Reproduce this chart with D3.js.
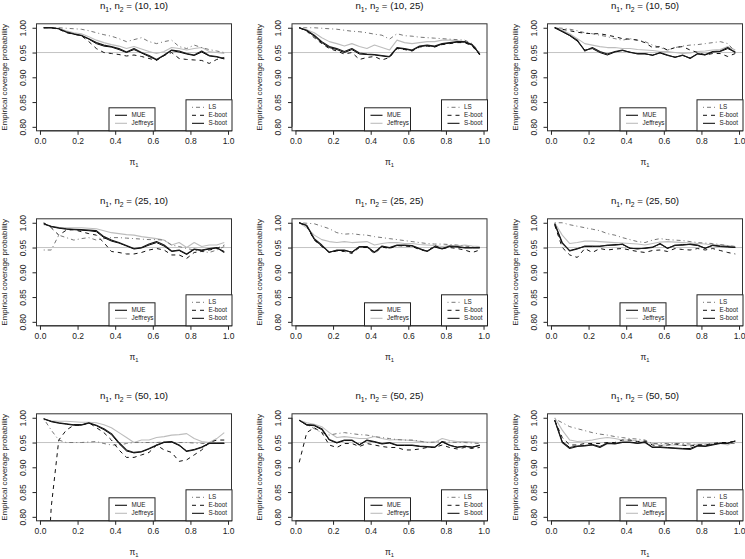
<!DOCTYPE html>
<html><head><meta charset="utf-8">
<script src="https://cdn.jsdelivr.net/npm/d3@7"></script>
<style>body{margin:0;background:#fff}svg{display:block}</style>
</head><body>
<svg id="c" width="745" height="559"></svg>
<script>
const PI1 = [0.02,0.06,0.10,0.14,0.18,0.22,0.26,0.30,0.34,0.38,0.42,0.46,0.50,0.54,0.58,0.62,0.66,0.70,0.74,0.78,0.82,0.86,0.90,0.94,0.98];
const X_TICKS = [0.0,0.2,0.4,0.6,0.8,1.0];
const Y_TICKS = [0.80,0.85,0.90,0.95,1.00];
const SIZES = [[10,10],[10,25],[10,50],[25,10],[25,25],[25,50],[50,10],[50,25],[50,50]];
const SERIES = ["Jeffreys","LS","E-boot","S-boot","MUE"];

// (10,10)
const MUE_10_10 = [1.000,1.000,0.998,0.992,0.988,0.985,0.978,0.970,0.965,0.962,0.958,0.951,0.958,0.950,0.944,0.936,0.945,0.955,0.953,0.948,0.945,0.953,0.944,0.942,0.938];
const SBOOT_10_10 = [1.000,1.000,0.998,0.991,0.987,0.984,0.977,0.968,0.963,0.961,0.956,0.950,0.956,0.949,0.942,0.935,0.944,0.954,0.951,0.947,0.944,0.951,0.943,0.941,0.937];
const JEF_10_10 = [1.000,1.000,0.999,0.994,0.990,0.988,0.982,0.975,0.970,0.966,0.963,0.958,0.962,0.957,0.952,0.948,0.952,0.960,0.958,0.955,0.958,0.960,0.952,0.950,0.948];
const LS_10_10 = [1.000,1.000,1.000,0.999,0.998,0.997,0.994,0.990,0.986,0.983,0.978,0.972,0.976,0.980,0.972,0.968,0.972,0.975,0.962,0.958,0.965,0.960,0.956,0.953,0.950];
const EBOOT_10_10 = [1.000,1.000,0.997,0.990,0.987,0.984,0.972,0.958,0.950,0.948,0.946,0.943,0.945,0.942,0.938,0.934,0.944,0.950,0.938,0.936,0.935,0.934,0.928,0.936,0.940];
// (10,25)
const MUE_10_25 = [1.000,0.995,0.985,0.972,0.962,0.958,0.952,0.958,0.949,0.947,0.946,0.944,0.942,0.960,0.958,0.955,0.963,0.965,0.963,0.968,0.970,0.972,0.972,0.966,0.947];
const SBOOT_10_25 = [1.000,0.994,0.983,0.970,0.960,0.956,0.950,0.956,0.947,0.946,0.945,0.943,0.941,0.959,0.957,0.954,0.962,0.964,0.962,0.967,0.969,0.971,0.971,0.965,0.946];
const EBOOT_10_25 = [1.000,0.993,0.980,0.968,0.958,0.953,0.947,0.950,0.936,0.940,0.942,0.935,0.940,0.958,0.956,0.953,0.961,0.963,0.961,0.966,0.968,0.970,0.970,0.963,0.945];
const JEF_10_25 = [1.000,0.996,0.990,0.980,0.972,0.968,0.963,0.968,0.962,0.958,0.965,0.960,0.955,0.975,0.970,0.968,0.970,0.972,0.972,0.975,0.975,0.974,0.972,0.964,0.948];
const LS_10_25 = [1.000,1.000,1.000,0.999,0.998,0.997,0.995,0.993,0.992,0.990,0.987,0.985,0.977,0.988,0.984,0.983,0.981,0.980,0.979,0.978,0.977,0.976,0.975,0.968,0.950];
// (10,50)
const MUE_10_50 = [1.000,0.993,0.985,0.975,0.953,0.960,0.952,0.947,0.952,0.955,0.950,0.948,0.948,0.944,0.950,0.945,0.940,0.945,0.938,0.948,0.946,0.952,0.953,0.960,0.950];
const SBOOT_10_50 = [1.000,0.992,0.984,0.973,0.955,0.958,0.950,0.945,0.951,0.954,0.951,0.947,0.947,0.945,0.949,0.944,0.941,0.944,0.939,0.947,0.945,0.951,0.952,0.958,0.951];
const EBOOT_10_50 = [1.000,0.997,0.994,0.991,0.989,0.988,0.988,0.985,0.982,0.978,0.977,0.975,0.970,0.960,0.962,0.955,0.960,0.962,0.955,0.950,0.945,0.948,0.948,0.942,0.948];
const JEF_10_50 = [1.000,0.995,0.988,0.978,0.968,0.965,0.962,0.960,0.960,0.958,0.958,0.956,0.955,0.954,0.952,0.952,0.950,0.948,0.949,0.952,0.953,0.955,0.956,0.962,0.955];
const LS_10_50 = [1.000,0.999,0.997,0.994,0.990,0.988,0.985,0.982,0.978,0.975,0.978,0.975,0.972,0.965,0.960,0.955,0.960,0.963,0.965,0.966,0.968,0.970,0.972,0.968,0.952];
// (25,10)
const MUE_25_10 = [0.998,0.993,0.990,0.988,0.987,0.986,0.985,0.984,0.972,0.965,0.960,0.954,0.948,0.950,0.957,0.962,0.955,0.943,0.945,0.937,0.947,0.945,0.948,0.950,0.940];
const SBOOT_25_10 = [0.998,0.992,0.989,0.987,0.986,0.985,0.984,0.982,0.970,0.963,0.959,0.953,0.947,0.949,0.955,0.960,0.953,0.942,0.944,0.936,0.946,0.944,0.947,0.949,0.942];
const EBOOT_25_10 = [1.000,0.990,0.975,0.985,0.986,0.982,0.978,0.975,0.960,0.942,0.940,0.937,0.937,0.940,0.945,0.948,0.945,0.935,0.935,0.928,0.940,0.942,0.945,0.948,0.955];
const JEF_25_10 = [0.996,0.993,0.991,0.990,0.990,0.990,0.989,0.988,0.984,0.980,0.978,0.976,0.975,0.972,0.970,0.968,0.965,0.955,0.960,0.950,0.960,0.952,0.955,0.955,0.960];
const LS_25_10 = [0.945,0.945,0.975,0.970,0.965,0.968,0.970,0.965,0.968,0.970,0.970,0.969,0.968,0.967,0.966,0.966,0.965,0.955,0.952,0.948,0.945,0.942,0.940,0.945,0.952];
// (25,25)
const MUE_25_25 = [1.000,0.995,0.968,0.955,0.940,0.945,0.945,0.940,0.952,0.952,0.940,0.953,0.950,0.955,0.955,0.954,0.948,0.942,0.952,0.948,0.953,0.952,0.950,0.950,0.950];
const SBOOT_25_25 = [1.000,0.994,0.966,0.953,0.941,0.944,0.944,0.941,0.951,0.951,0.941,0.952,0.949,0.954,0.954,0.953,0.947,0.943,0.951,0.947,0.952,0.951,0.949,0.949,0.949];
const EBOOT_25_25 = [1.000,0.993,0.965,0.952,0.940,0.943,0.942,0.938,0.950,0.950,0.938,0.951,0.948,0.954,0.953,0.952,0.946,0.942,0.954,0.948,0.950,0.948,0.945,0.940,0.945];
const JEF_25_25 = [1.000,0.990,0.975,0.966,0.962,0.960,0.962,0.960,0.961,0.962,0.955,0.958,0.960,0.960,0.958,0.958,0.956,0.955,0.954,0.952,0.954,0.953,0.955,0.953,0.952];
const LS_25_25 = [1.000,0.999,0.998,0.993,0.988,0.980,0.977,0.978,0.976,0.975,0.972,0.970,0.968,0.966,0.964,0.962,0.960,0.958,0.957,0.957,0.956,0.955,0.953,0.951,0.950];
// (25,50)
const MUE_25_50 = [0.998,0.960,0.943,0.947,0.953,0.953,0.952,0.955,0.955,0.957,0.948,0.948,0.948,0.950,0.958,0.948,0.955,0.955,0.957,0.955,0.948,0.955,0.953,0.952,0.950];
const SBOOT_25_50 = [0.998,0.958,0.944,0.948,0.952,0.952,0.953,0.954,0.956,0.956,0.949,0.947,0.949,0.951,0.957,0.949,0.954,0.956,0.956,0.954,0.949,0.954,0.952,0.951,0.950];
const EBOOT_25_50 = [0.995,0.950,0.935,0.930,0.948,0.940,0.948,0.945,0.947,0.948,0.945,0.942,0.940,0.944,0.945,0.942,0.948,0.946,0.945,0.948,0.945,0.948,0.944,0.940,0.937];
const JEF_25_50 = [1.000,0.975,0.958,0.960,0.963,0.963,0.962,0.961,0.960,0.959,0.958,0.957,0.955,0.958,0.961,0.962,0.961,0.960,0.959,0.958,0.957,0.955,0.955,0.954,0.952];
const LS_25_50 = [1.000,1.000,0.996,0.993,0.990,0.987,0.984,0.978,0.975,0.970,0.966,0.962,0.960,0.965,0.968,0.966,0.965,0.964,0.962,0.960,0.959,0.958,0.956,0.954,0.952];
// (50,10)
const MUE_50_10 = [0.998,0.993,0.990,0.988,0.986,0.986,0.990,0.985,0.978,0.968,0.950,0.935,0.930,0.932,0.938,0.945,0.951,0.952,0.945,0.932,0.935,0.940,0.948,0.948,0.948];
const SBOOT_50_10 = [0.998,0.992,0.989,0.987,0.985,0.985,0.989,0.984,0.976,0.966,0.948,0.933,0.929,0.931,0.937,0.944,0.950,0.951,0.944,0.933,0.936,0.941,0.949,0.949,0.949];
const EBOOT_50_10 = [0.550,0.820,0.955,0.975,0.985,0.985,0.990,0.980,0.970,0.955,0.935,0.920,0.920,0.925,0.930,0.945,0.935,0.930,0.912,0.915,0.925,0.935,0.950,0.955,0.955];
const JEF_50_10 = [0.996,0.994,0.993,0.993,0.992,0.991,0.991,0.990,0.986,0.980,0.970,0.960,0.950,0.955,0.955,0.960,0.962,0.965,0.966,0.968,0.958,0.952,0.950,0.958,0.970];
const LS_50_10 = [0.998,0.975,0.955,0.950,0.950,0.950,0.951,0.952,0.948,0.945,0.945,0.948,0.950,0.950,0.950,0.950,0.951,0.950,0.950,0.950,0.949,0.948,0.948,0.948,0.948];
// (50,25)
const MUE_50_25 = [0.995,0.986,0.985,0.978,0.956,0.950,0.955,0.955,0.945,0.955,0.952,0.948,0.950,0.945,0.945,0.945,0.943,0.942,0.940,0.952,0.945,0.940,0.943,0.940,0.945];
const SBOOT_50_25 = [0.995,0.985,0.984,0.976,0.955,0.949,0.954,0.954,0.946,0.954,0.951,0.947,0.949,0.944,0.944,0.944,0.942,0.941,0.941,0.951,0.944,0.941,0.942,0.941,0.944];
const EBOOT_50_25 = [0.910,0.970,0.980,0.970,0.945,0.940,0.948,0.948,0.942,0.948,0.945,0.942,0.940,0.940,0.935,0.935,0.937,0.940,0.940,0.945,0.940,0.937,0.940,0.938,0.940];
const JEF_50_25 = [0.995,0.990,0.987,0.982,0.970,0.960,0.962,0.960,0.958,0.958,0.962,0.958,0.955,0.956,0.955,0.954,0.952,0.951,0.950,0.958,0.954,0.952,0.952,0.951,0.950];
const LS_50_25 = [0.995,0.987,0.978,0.970,0.965,0.968,0.970,0.968,0.966,0.965,0.962,0.960,0.958,0.956,0.955,0.955,0.953,0.950,0.951,0.952,0.951,0.950,0.950,0.949,0.948];
// (50,50)
const MUE_50_50 = [0.995,0.950,0.938,0.942,0.943,0.945,0.940,0.948,0.947,0.950,0.950,0.948,0.950,0.940,0.940,0.939,0.938,0.937,0.936,0.943,0.942,0.945,0.948,0.948,0.953];
const SBOOT_50_50 = [0.995,0.952,0.940,0.943,0.944,0.946,0.942,0.949,0.948,0.951,0.951,0.949,0.951,0.941,0.941,0.940,0.939,0.938,0.938,0.944,0.943,0.946,0.949,0.949,0.953];
const EBOOT_50_50 = [0.995,0.960,0.945,0.945,0.948,0.948,0.948,0.950,0.950,0.955,0.955,0.952,0.953,0.945,0.943,0.945,0.947,0.945,0.943,0.945,0.945,0.948,0.950,0.950,0.953];
const JEF_50_50 = [1.000,0.975,0.955,0.952,0.953,0.955,0.958,0.960,0.958,0.955,0.955,0.953,0.952,0.948,0.945,0.945,0.945,0.944,0.945,0.947,0.948,0.950,0.948,0.945,0.953];
const LS_50_50 = [0.998,0.990,0.982,0.978,0.974,0.970,0.967,0.965,0.962,0.960,0.958,0.957,0.955,0.948,0.948,0.948,0.948,0.948,0.947,0.946,0.946,0.947,0.948,0.948,0.948];

const PANEL_DATA = [
  {"MUE":MUE_10_10,"S-boot":SBOOT_10_10,"E-boot":EBOOT_10_10,"Jeffreys":JEF_10_10,"LS":LS_10_10},
  {"MUE":MUE_10_25,"S-boot":SBOOT_10_25,"E-boot":EBOOT_10_25,"Jeffreys":JEF_10_25,"LS":LS_10_25},
  {"MUE":MUE_10_50,"S-boot":SBOOT_10_50,"E-boot":EBOOT_10_50,"Jeffreys":JEF_10_50,"LS":LS_10_50},
  {"MUE":MUE_25_10,"S-boot":SBOOT_25_10,"E-boot":EBOOT_25_10,"Jeffreys":JEF_25_10,"LS":LS_25_10},
  {"MUE":MUE_25_25,"S-boot":SBOOT_25_25,"E-boot":EBOOT_25_25,"Jeffreys":JEF_25_25,"LS":LS_25_25},
  {"MUE":MUE_25_50,"S-boot":SBOOT_25_50,"E-boot":EBOOT_25_50,"Jeffreys":JEF_25_50,"LS":LS_25_50},
  {"MUE":MUE_50_10,"S-boot":SBOOT_50_10,"E-boot":EBOOT_50_10,"Jeffreys":JEF_50_10,"LS":LS_50_10},
  {"MUE":MUE_50_25,"S-boot":SBOOT_50_25,"E-boot":EBOOT_50_25,"Jeffreys":JEF_50_25,"LS":LS_50_25},
  {"MUE":MUE_50_50,"S-boot":SBOOT_50_50,"E-boot":EBOOT_50_50,"Jeffreys":JEF_50_50,"LS":LS_50_50}
];

const STYLE = {
  "MUE":{color:"#1a1a1a",width:1.15,dash:null},
  "Jeffreys":{color:"#bdbdbd",width:1.1,dash:null},
  "LS":{color:"#777",width:1,dash:"1,3,4,3"},
  "E-boot":{color:"#111",width:1,dash:"4,4"},
  "S-boot":{color:"#000",width:1,dash:null}
};

const FONT = "'Liberation Sans', Arial, Helvetica, sans-serif";
const svg = d3.select("#c").style("font-family", FONT);
const colLeft = [36.5, 292, 547.5];
const rowTop = [23.8, 218.8, 413.8];
const W = 195, H = 107;

SIZES.forEach((sz, i) => {
  const r = Math.floor(i/3), c = i%3;
  const g = svg.append("g").attr("transform", `translate(${colLeft[c]},${rowTop[r]})`);
  const x = d3.scaleLinear().domain([0.02-0.0384, 0.98+0.0384]).range([0, W]);
  const y = d3.scaleLinear().domain([0.792, 1.008]).range([H, 0]);

  const cid = "clip"+i;
  g.append("clipPath").attr("id", cid).append("rect").attr("width", W).attr("height", H);
  const plot = g.append("g").attr("clip-path", `url(#${cid})`);

  plot.append("line").attr("x1",0).attr("x2",W).attr("y1",y(0.95)).attr("y2",y(0.95))
    .attr("stroke","#c4c4c4").attr("stroke-width",1);

  const line = d3.line().x((d,k)=>x(PI1[k])).y(d=>y(d));
  SERIES.forEach(s => {
    const st = STYLE[s];
    plot.append("path").datum(PANEL_DATA[i][s]).attr("d", line)
      .attr("fill","none").attr("stroke",st.color).attr("stroke-width",st.width)
      .attr("stroke-dasharray",st.dash).attr("stroke-linejoin","round");
  });

  // axes
  const xa = g.append("g").attr("transform",`translate(0,${H})`)
    .call(d3.axisBottom(x).tickValues(X_TICKS).tickFormat(d3.format(".1f")).tickSize(4).tickPadding(3));
  const ya = g.append("g")
    .call(d3.axisLeft(y).tickValues(Y_TICKS).tickFormat(d3.format(".2f")).tickSize(4));
  [xa, ya].forEach(a => {
    a.select(".domain").remove();
    a.selectAll("line").attr("stroke","#222");
    a.selectAll("text").attr("fill","#222").style("font-size","8.5px").style("font-family",FONT);
  });
  xa.append("line").attr("x1",x(0)).attr("x2",x(1)).attr("stroke","#222");
  ya.append("line").attr("y1",y(0.80)).attr("y2",y(1.00)).attr("stroke","#222");
  ya.selectAll(".tick text").attr("x",null).attr("dy",null)
    .attr("text-anchor","middle")
    .attr("transform","translate(-11,0) rotate(-90)");

  g.append("rect").attr("width",W).attr("height",H).attr("fill","none").attr("stroke","#333").attr("stroke-width",1);

  // legends
  const leg = (lx, items) => {
    const h = 15 + 8*(items.length-1);
    const lw = 46;
    const lg = g.append("g").attr("transform",`translate(${lx},${H-h})`);
    lg.append("rect").attr("width",lw).attr("height",h).attr("fill","#fff").attr("stroke","#222").attr("stroke-width",1);
    items.forEach((s,k) => {
      const st = STYLE[s];
      const yy = 7.5 + 8*k;
      lg.append("line").attr("x1",6).attr("x2",18).attr("y1",yy).attr("y2",yy)
        .attr("stroke",st.color).attr("stroke-width",st.width).attr("stroke-dasharray",st.dash);
      lg.append("text").attr("x",22.5).attr("y",yy+2.2).text(s)
        .style("font-size","6.3px").attr("fill","#222");
    });
  };
  leg(W/2-25, ["MUE","Jeffreys"]);
  leg(W-45.5, ["LS","E-boot","S-boot"]);

  // title
  const t = g.append("text").attr("x",W/2).attr("y",-14.5).attr("text-anchor","middle")
    .style("font-size","9.7px").attr("fill","#111");
  t.append("tspan").text("n");
  t.append("tspan").text("1").style("font-size","6.8px").attr("dy",2.2);
  t.append("tspan").text(", n").attr("dy",-2.2);
  t.append("tspan").text("2").style("font-size","6.8px").attr("dy",2.2);
  t.append("tspan").text(` = (${sz[0]}, ${sz[1]})`).attr("dy",-2.2);

  // x label
  const xl = g.append("text").attr("x",W/2).attr("y",H+34.5).attr("text-anchor","middle")
    .style("font-size","8.5px").attr("fill","#222");
  xl.append("tspan").text("π");
  xl.append("tspan").text("1").style("font-size","5.8px").attr("dy",1.4);

  // y label
  g.append("text").attr("transform",`translate(-30,${H/2}) rotate(-90)`).attr("text-anchor","middle")
    .style("font-size","8px").attr("fill","#222").text("Empirical coverage probability");
});
</script>
</body></html>
